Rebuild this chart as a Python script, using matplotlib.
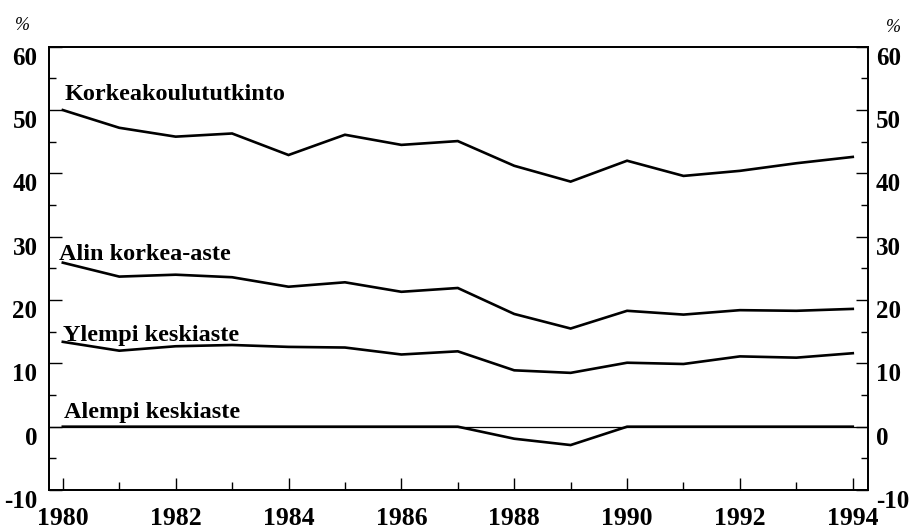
import matplotlib
matplotlib.use("Agg")
import matplotlib.pyplot as plt
from matplotlib.ticker import MultipleLocator

plt.rcParams["axes.unicode_minus"] = False

years = list(range(1980, 1995))
korkeakoulu = [50.0, 47.2, 45.8, 46.3, 42.9, 46.1, 44.5, 45.1, 41.2, 38.7, 42.0, 39.6, 40.4, 41.6, 42.6]
alin_korkea = [25.9, 23.7, 24.0, 23.6, 22.1, 22.8, 21.3, 21.9, 17.8, 15.5, 18.3, 17.7, 18.4, 18.3, 18.6]
ylempi_keski = [13.4, 12.0, 12.7, 12.9, 12.6, 12.5, 11.4, 11.9, 8.9, 8.5, 10.1, 9.9, 11.1, 10.9, 11.6]
alempi_keski = [0.0, 0.0, 0.0, 0.0, 0.0, 0.0, 0.0, 0.0, -1.9, -2.9, 0.0, 0.0, 0.0, 0.0, 0.0]
series_labels = ["Korkeakoulututkinto", "Alin korkea-aste", "Ylempi keskiaste", "Alempi keskiaste"]
label_y = [52.4, 27.2, 14.4, 2.3]
label_x = [1980.03, 1979.93, 1980.0, 1980.02]
yticks = [-10, 0, 10, 20, 30, 40, 50, 60]
xticks = list(range(1980, 1995, 2))

serif = ["Liberation Serif", "DejaVu Serif"]

fig = plt.figure(figsize=(9.16, 5.31), dpi=100)
ax = fig.add_axes([0.0538, 0.0772, 0.8938, 0.8348])

ax.axhline(0, color="black", lw=0.9, zorder=1)
for vals in [korkeakoulu, alin_korkea, ylempi_keski, alempi_keski]:
    ax.plot(years, vals, color="black", lw=1.9, solid_joinstyle="miter", zorder=2)

for lab, xv, yv in zip(series_labels, label_x, label_y):
    ax.text(xv, yv, lab, fontfamily=serif, fontweight="bold", fontsize=17.5,
            ha="left", va="center")

ax.set_xlim(1979.76, 1994.27)
ax.set_ylim(-10, 60)
ax.set_yticks(yticks)
ax.set_xticks(xticks)
ax.yaxis.set_minor_locator(MultipleLocator(5))
ax.xaxis.set_minor_locator(MultipleLocator(1))

ax.tick_params(axis="y", which="both", direction="in", left=True, right=False,
               labelleft=True, labelright=False, width=1)
ax.tick_params(axis="y", which="major", length=9, pad=8.5)
ax.tick_params(axis="y", which="minor", length=5)
ax.tick_params(axis="x", which="both", direction="in", top=False, bottom=True, width=1)
ax.tick_params(axis="x", which="major", length=9, pad=12)
ax.tick_params(axis="x", which="minor", length=6)

# right-hand axis mirrors the left scale
ax2 = ax.twinx()
ax2.set_ylim(ax.get_ylim())
ax2.set_yticks(yticks)
ax2.yaxis.set_minor_locator(MultipleLocator(5))
ax2.tick_params(axis="y", which="both", direction="in", width=1)
ax2.tick_params(axis="y", which="major", length=9, pad=5.5)
ax2.tick_params(axis="y", which="minor", length=5)

for lbl in ax.get_xticklabels():
    lbl.set_fontfamily(serif)
    lbl.set_fontweight("bold")
    lbl.set_fontsize(18.5)

for a in (ax, ax2):
    for s in a.spines.values():
        s.set_linewidth(1.3)

fig.text(22 / 916, 1 - 25 / 531, "%", fontfamily=serif, fontstyle="italic", fontsize=13,
         ha="center", va="center")
fig.text(893 / 916, 1 - 27 / 531, "%", fontfamily=serif, fontstyle="italic", fontsize=13,
         ha="center", va="center")

fig.canvas.draw()
for tick in ax.yaxis.get_major_ticks():
    tick.label1.set_fontfamily(serif)
    tick.label1.set_fontweight("bold")
    tick.label1.set_fontsize(18)
    tick.label1.set_verticalalignment("top")
for tick in ax2.yaxis.get_major_ticks():
    tick.label2.set_fontfamily(serif)
    tick.label2.set_fontweight("bold")
    tick.label2.set_fontsize(18)
    tick.label2.set_verticalalignment("top")

fig.savefig("out.png", dpi=100)
